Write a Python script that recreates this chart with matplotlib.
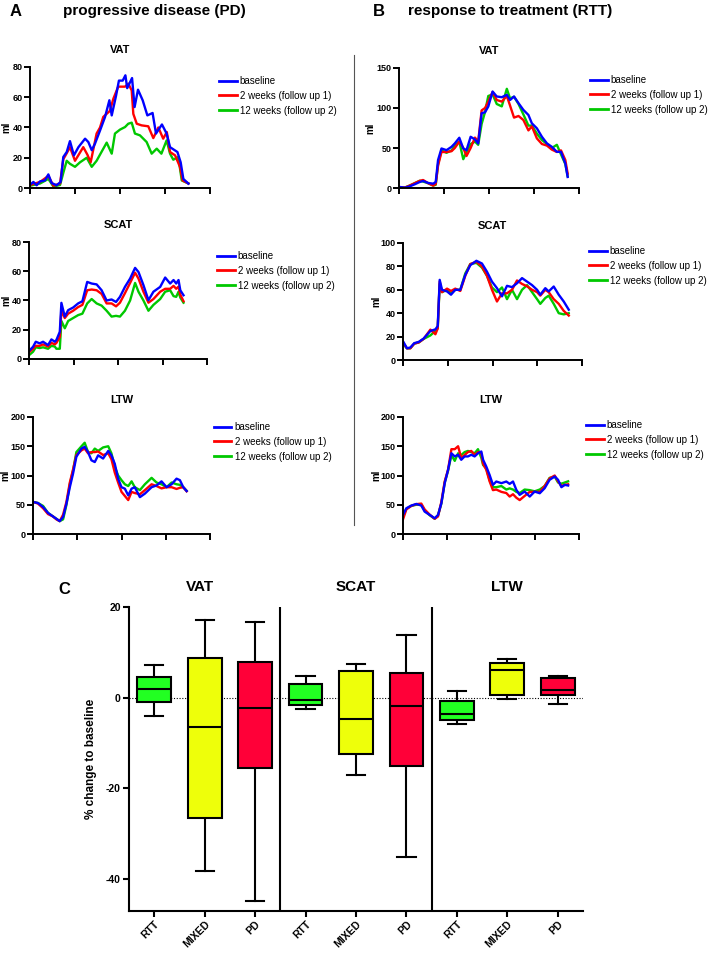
import matplotlib
matplotlib.use('Agg')
import matplotlib.pyplot as plt
from matplotlib.lines import Line2D
import matplotlib.transforms as mtransforms

plt.rcParams['font.family'] = ['Liberation Sans', 'DejaVu Sans']

series_labels = ['baseline', '2 weeks (follow up 1)', '12 weeks (follow up 2)']
series_colors = ['#0000FF', '#FF0000', '#00C800']

# ---------------- Panel A: progressive disease ----------------
# VAT
a_vat_base_x = [0, 1.9, 3.7, 5.6, 8.3, 10.2, 12, 14.8, 17, 18.5, 20.4, 22.2, 24.4, 26.9, 30.6, 32.4, 34.3, 36.1, 38.9, 41.7,
                44.1, 45.4, 47.8, 49.4, 51.5, 53, 54, 56.7, 58.1, 60, 62.6, 65.2, 68.1, 70, 73.3, 75.9, 77.8, 81.9, 83.7, 85.2, 88]
a_vat_base_y = [2.2, 4, 1.8, 4.4, 5, 9, 3.3, 1.8, 4, 20.5, 23.8, 31, 21.6, 27, 32.6, 30.4, 25, 29.3, 38, 47,
                58, 48, 61, 71, 71, 74.5, 66, 72.7, 53.5, 65, 58, 48, 49.6, 36, 42, 36, 27, 23.8, 17, 6, 2.9]
a_vat_fu1_x = [0, 5.6, 10.2, 13, 16.7, 18.5, 20.4, 22.2, 25, 29.6, 31.9, 33.7, 37, 38.9, 40.7, 44.4, 46.3, 49, 52.8, 54.6,
               56.5, 57.4, 59.3, 62, 65.7, 68.5, 71.3, 74, 76, 77.8, 80.6, 83.3, 84.8, 88]
a_vat_fu1_y = [2, 4, 8, 1.5, 3, 19, 23, 27, 18, 27, 22, 17, 36, 40, 47, 51, 59, 67, 67, 69,
               64.5, 49, 42.5, 41.4, 40.8, 33, 40, 32.6, 37, 23.8, 21.6, 14, 5, 3]
a_vat_fu2_x = [0, 5.6, 10.2, 13, 16.7, 18.5, 20.4, 22.2, 25, 27.8, 31.5, 34.3, 37, 39.8, 42.6, 45.4, 47.2, 50, 52.8, 54.6,
               56.5, 58.3, 61.1, 64.8, 67.6, 70.4, 73, 75.9, 77.8, 79.6, 82.4, 84.3, 88]
a_vat_fu2_y = [1.5, 3, 6, 1, 2, 10, 18, 16, 14, 17, 20, 14, 18, 24, 30, 22.7, 36, 38.6, 40.3, 42.5,
               43.2, 36, 34.8, 30.4, 22.7, 26, 22.7, 31.5, 22.7, 18.7, 20.5, 5, 3]

# SCAT
a_scat_x = [0.4, 2.3, 3.8, 6, 7.9, 10.7, 12.6, 14.5, 15.4, 17.3, 18.2, 20.1, 22, 24.8, 27.6, 30, 32.7, 35.2, 38, 40.8,
            43.6, 46.4, 48.9, 51.1, 53.9, 56.8, 59.6, 61.5, 64.3, 67.1, 69.9, 73.7, 76.5, 79.3, 81.2, 82.7, 84, 85, 86.8]
a_scat_base_y = [6, 8.4, 11.8, 10.7, 11.8, 9.5, 13.4, 11.8, 13, 18.6, 38.4, 29, 33.4, 35.2, 38, 39.5, 52.7, 51.6, 51, 47,
                 40, 40.7, 39, 42.5, 49.3, 55, 62.3, 59.5, 50.5, 40.2, 46, 49.3, 55.7, 51.6, 54, 51.6, 54, 47, 43.6]
a_scat_fu1_y = [5, 7, 9, 9, 10, 8.5, 11, 10, 11, 15, 33, 28, 31, 33, 35.5, 37, 47, 47.5, 47, 44.5,
                38, 38, 36, 38.5, 45, 52, 59, 55, 46, 38.5, 41, 46, 48, 48, 50, 48, 49.5, 44, 39.5]
a_scat_fu2_y = [3, 5, 8, 7.5, 8, 7, 9, 8.5, 7, 7, 26, 21, 26, 28, 30, 31, 38, 41, 38, 36.5,
                33, 29, 29.5, 29, 33, 40, 52, 46, 40, 33, 37, 41, 46, 47, 43, 42.5, 46, 42, 38.5]

# LTW
a_ltw_x = [0, 2.8, 5.7, 8.5, 11.3, 13.2, 15.1, 17, 18.9, 20.8, 22.6, 24.5, 27.4, 29.2, 31.1, 33, 34.9, 36.8, 39.6, 42.5,
           44.3, 46.2, 48.1, 50, 51.9, 53.8, 55.7, 57.5, 60.4, 63.2, 67, 69.8, 72.6, 75.5, 78.3, 81.1, 83, 84.9, 86.8]
a_ltw_base_y = [54.7, 53, 46, 36, 30, 26, 22, 29, 52, 80, 103, 132, 146, 149, 140, 126, 123, 134.5, 129, 142,
                134.5, 120, 94.6, 80, 77.5, 66, 77.5, 80, 63, 69, 80, 83, 90, 80, 85, 94.6, 92, 80, 73.5]
a_ltw_fu1_y = [55, 52, 44, 34, 30, 25, 22, 33, 55, 88, 110, 135, 143, 146, 138, 140, 140, 141, 135, 138,
               128, 105, 88, 72, 65, 58, 72, 70, 68, 75, 85, 82, 78, 80, 80, 77, 79, 80, 73]
a_ltw_fu2_y = [55, 53, 48, 36, 30, 26, 22, 25, 50, 85, 108, 140, 150, 156, 140, 138, 146, 142, 148, 150,
               138, 115, 100, 92, 85, 82, 90, 80, 75, 85, 96, 88, 85, 80, 88, 85, 84, 80, 74]

# ---------------- Panel B: response to treatment ----------------
b_vat_x = [0.4, 3.2, 5.9, 8.7, 11.5, 13.4, 16.2, 19, 20.4, 21.7, 23.6, 26.4, 29.2, 31, 33.5, 35.7, 37.5, 39.8, 42.2, 44,
           45.9, 47.8, 49.6, 52, 54.3, 57.1, 59.9, 61.7, 63.9, 66.4, 69.1, 71.9, 73.8, 76.6, 79.4, 82.2, 84.9, 87.7, 90, 92.4, 93.7]
b_vat_base_y = [1.3, 0.4, 2, 4.6, 7.5, 8.8, 6.3, 5.4, 7.5, 35, 49.4, 47.3, 51.5, 55.7, 62.8, 49.4, 47.3, 64, 60.7, 55.7,
                93.4, 94.7, 101.8, 120.6, 114.4, 113.5, 116.5, 110, 114.4, 106, 97.6, 91.3, 80.9, 74.6, 64, 55.7, 51.5, 45.2, 45.2, 30.6, 13.8]
b_vat_fu1_y = [1, 0.5, 3, 6, 9, 10, 6, 3, 5, 28, 45, 45, 46, 50, 58, 50, 40, 50, 63, 58,
               97, 100, 108, 120, 110, 108, 115, 103, 88, 90, 85, 72, 77, 62, 55, 53, 48, 45, 47, 35, 18]
b_vat_fu2_y = [1, 0.5, 3, 6, 9, 8, 6, 3, 4, 30, 47, 44, 47, 53, 58, 36, 45, 55, 58, 54,
               80, 95, 115, 117, 105, 102, 124, 112, 114, 105, 92, 78, 78, 68, 60, 55, 50, 54, 42, 30, 15]

b_scat_x = [0.4, 2.2, 4.1, 6.3, 8.8, 11.5, 15.3, 18.1, 19.4, 20.5, 21.8, 24.6, 26.8, 29.2, 32, 34.8, 37.6, 41, 44.1, 46.9,
            49.7, 52.5, 55.3, 58.1, 60.9, 63.7, 66.5, 69.3, 72.1, 74.9, 76.7, 79.5, 81.4, 84.2, 87, 89.8, 92.6]
b_scat_base_y = [15, 10, 10.7, 14.4, 15.5, 18.3, 24.8, 26.2, 29, 68.5, 60, 58.6, 55.8, 60, 60, 72.7, 81, 84.8, 82.5, 75.5,
                 67, 61.4, 54.4, 63.4, 62.3, 65.6, 70, 67, 64, 60, 55.8, 61.4, 58.6, 62.8, 55.8, 50, 43]
b_scat_fu1_y = [14, 10, 10, 14, 15, 18, 26, 22, 27, 67, 58, 61, 59, 61, 59, 72, 82, 84, 80, 72,
                60, 50, 57, 57, 60, 68, 65, 63, 60, 58, 55, 60, 58, 52, 48, 42, 38]
b_scat_fu2_y = [13, 10, 10, 14, 15, 18, 21, 25, 27, 65, 58, 60, 57, 60, 60, 74, 82, 83, 79, 72,
                62, 58, 62, 52, 60, 52, 60, 64, 58, 52, 48, 53, 55, 48, 40, 39, 40]

b_ltw_x = [0, 1.9, 4.7, 7.6, 10.4, 12.3, 15.2, 18, 19.9, 21.8, 23.7, 25.6, 27.5, 29.4, 31.3, 33.1, 35, 36.9, 38.8, 40.7,
           42.6, 44.5, 45.5, 47.3, 49.2, 51.1, 53, 55.9, 58.7, 60.6, 62.5, 64.4, 66.3, 69.1, 72, 74.8, 77.7, 80.5, 83.3, 86.2,
           88.1, 90, 91.9, 93.8]
b_ltw_base_y = [32.6, 44, 48.6, 51.4, 48.6, 38.3, 32.6, 26.9, 32.6, 52.6, 86.9, 109.7, 138, 132.6, 135.4, 126.9, 132.6, 132.6, 135.4, 132.6,
                138, 141, 126.9, 115.4, 101, 84, 89.7, 86.9, 89.7, 85.7, 89.7, 75.4, 66.9, 72.6, 64, 72.6, 69.7, 78.3, 92.6, 98.3,
                92.6, 80, 84, 82.9]
b_ltw_fu1_y = [25, 42, 48, 51, 52, 42, 33, 26, 30, 55, 90, 110, 145, 145, 150, 130, 135, 140, 142, 135,
               140, 138, 120, 110, 90, 75, 76, 72, 70, 64, 68, 62, 58, 65, 72, 72, 72, 82, 95, 100,
               90, 82, 84, 85]
b_ltw_fu2_y = [30, 43, 48, 50, 50, 40, 32, 26, 32, 52, 88, 108, 135, 125, 138, 135, 140, 142, 140, 138,
               145, 130, 118, 112, 92, 80, 80, 82, 76, 78, 76, 72, 70, 76, 75, 73, 76, 82, 96, 98,
               88, 86, 88, 90]

# ---------------- Panel C: % change to baseline ----------------
c_groups = ['VAT', 'SCAT', 'LTW']
c_cats = ['RTT', 'MIXED', 'PD']
c_colors = ['#22FF22', '#EEFF0A', '#FF0038']
c_whislo = [-4.1, -38.2, -44.9, -2.4, -17.1, -35.1, -5.8, -0.2, -1.3]
c_q1 = [-1.0, -26.4, -15.5, -1.6, -12.3, -15.1, -4.9, 0.7, 0.5]
c_med = [2.0, -6.4, -2.3, -0.4, -4.6, -1.8, -3.6, 6.2, 1.6]
c_q3 = [4.6, 8.8, 7.8, 3.1, 5.8, 5.5, -0.7, 7.7, 4.3]
c_whishi = [7.3, 17.2, 16.8, 4.9, 7.5, 13.9, 1.5, 8.6, 4.9]

W, H = 709, 955
fig = plt.figure(figsize=(W / 100, H / 100), dpi=100)


def rect(l, r, t, b):
    return [l / W, 1 - b / H, (r - l) / W, (b - t) / H]


def line_panel(r, title, xs, ys, yticks, leg_xy, ylab_px):
    ax = fig.add_axes(rect(*r))
    for i in [2, 1, 0]:
        ax.plot(xs[i], ys[i], color=series_colors[i], lw=1.7, label=series_labels[i], solid_joinstyle='round')
    ax.set_xlim(0, 100)
    ax.set_ylim(yticks[0], yticks[-1])
    ax.set_xticks([0, 25, 50, 75, 100])
    ax.set_xticklabels([])
    ax.set_yticks(yticks)
    ax.set_yticklabels([str(t) for t in yticks], fontsize=6.5, fontweight='bold')
    for s in ['top', 'right']:
        ax.spines[s].set_visible(False)
    for s in ['left', 'bottom']:
        ax.spines[s].set_linewidth(1.4)
    ax.tick_params(direction='out', length=4, width=1.4, pad=1.5)
    ax.set_ylabel('ml', fontsize=7, fontweight='bold')
    ax.yaxis.set_label_coords((ylab_px - r[0]) / (r[1] - r[0]), 0.5)
    ax.set_title(title, fontsize=8, fontweight='bold', pad=10)
    handles = [Line2D([], [], color=series_colors[i], lw=2) for i in range(3)]
    ax.legend(handles, series_labels, loc='upper left', bbox_to_anchor=(leg_xy[0] / W, 1 - leg_xy[1] / H),
              bbox_transform=fig.transFigure, frameon=False, fontsize=7, borderpad=0, borderaxespad=0,
              handlelength=1.8, handletextpad=0.35, labelspacing=0.5)
    return ax


line_panel((30, 210, 67, 188), 'VAT',
           [a_vat_base_x, a_vat_fu1_x, a_vat_fu2_x], [a_vat_base_y, a_vat_fu1_y, a_vat_fu2_y],
           [0, 20, 40, 60, 80], (219, 76), 11)
line_panel((29, 207, 242, 359), 'SCAT',
           [a_scat_x] * 3, [a_scat_base_y, a_scat_fu1_y, a_scat_fu2_y],
           [0, 20, 40, 60, 80], (217, 251), 11)
line_panel((33, 210, 417, 534), 'LTW',
           [a_ltw_x] * 3, [a_ltw_base_y, a_ltw_fu1_y, a_ltw_fu2_y],
           [0, 50, 100, 150, 200], (214, 422), 10)
line_panel((399, 579, 68, 188), 'VAT',
           [b_vat_x] * 3, [b_vat_base_y, b_vat_fu1_y, b_vat_fu2_y],
           [0, 50, 100, 150], (590, 75), 375)
line_panel((403, 582, 243, 360), 'SCAT',
           [b_scat_x] * 3, [b_scat_base_y, b_scat_fu1_y, b_scat_fu2_y],
           [0, 20, 40, 60, 80, 100], (589, 246), 381)
line_panel((403, 579, 417, 534), 'LTW',
           [b_ltw_x] * 3, [b_ltw_base_y, b_ltw_fu1_y, b_ltw_fu2_y],
           [0, 50, 100, 150, 200], (586, 420), 381)

# Panel headings
fig.text(10 / W, 1 - 11 / H, 'A', fontsize=12, fontweight='bold', va='center', ha='left')
fig.text(63 / W, 1 - 11 / H, 'progressive disease (PD)', fontsize=11, fontweight='bold', va='center', ha='left')
fig.text(373 / W, 1 - 11 / H, 'B', fontsize=12, fontweight='bold', va='center', ha='left')
fig.text(408 / W, 1 - 11 / H, 'response to treatment (RTT)', fontsize=11, fontweight='bold', va='center', ha='left')

# divider between A and B
fig.add_artist(Line2D([354 / W, 354 / W], [1 - 55 / H, 1 - 525 / H], transform=fig.transFigure,
                      color='#555555', lw=0.8))

# ---------------- Panel C drawing ----------------
axc = fig.add_axes(rect(129, 583, 607, 911))
positions = list(range(1, 10))
stats = []
for i in range(9):
    stats.append(dict(med=c_med[i], q1=c_q1[i], q3=c_q3[i], whislo=c_whislo[i], whishi=c_whishi[i],
                      label=c_cats[i % 3]))
axc.axhline(0, color='black', lw=0.8, ls=(0, (1, 1.5)), zorder=1)
bp = axc.bxp(stats, positions=positions, widths=0.67, patch_artist=True, showfliers=False, capwidths=0.36,
             boxprops=dict(linewidth=1.5, edgecolor='black'),
             medianprops=dict(color='black', linewidth=1.5, zorder=5),
             whiskerprops=dict(color='black', linewidth=1.5),
             capprops=dict(color='black', linewidth=1.5))
for i, patch in enumerate(bp['boxes']):
    patch.set_facecolor(c_colors[i % 3])
    patch.set_zorder(3)
for m in bp['medians']:
    m.set_zorder(5)
for sep in [3.5, 6.5]:
    axc.axvline(sep, color='black', lw=1.5)
axc.set_xlim(0.5, 9.5)
axc.set_ylim(-47, 20)
axc.set_yticks([20, 0, -20, -40])
axc.set_yticklabels(['20', '0', '-20', '-40'], fontsize=7.5, fontweight='bold')
axc.set_xticks(positions)
axc.set_xticklabels([c_cats[i % 3] for i in range(9)], rotation=45, ha='right', rotation_mode='anchor',
                    fontsize=7.5, fontweight='bold')
for s in ['top', 'right']:
    axc.spines[s].set_visible(False)
for s in ['left', 'bottom']:
    axc.spines[s].set_linewidth(1.5)
axc.tick_params(direction='out', length=4, width=1.5, pad=2)
axc.set_ylabel('% change to baseline', fontsize=8.5, fontweight='bold', labelpad=6)
trans = mtransforms.blended_transform_factory(axc.transData, fig.transFigure)
for gi, g in enumerate(c_groups):
    axc.text(1.9 + 3 * gi + (0.1 if gi else 0), 1 - 587 / H, g, transform=trans, fontsize=11, fontweight='bold',
             ha='center', va='center')
fig.text(58 / W, 1 - 590 / H, 'C', fontsize=12, fontweight='bold', va='center', ha='left')

fig.savefig('out.png', dpi=100)
